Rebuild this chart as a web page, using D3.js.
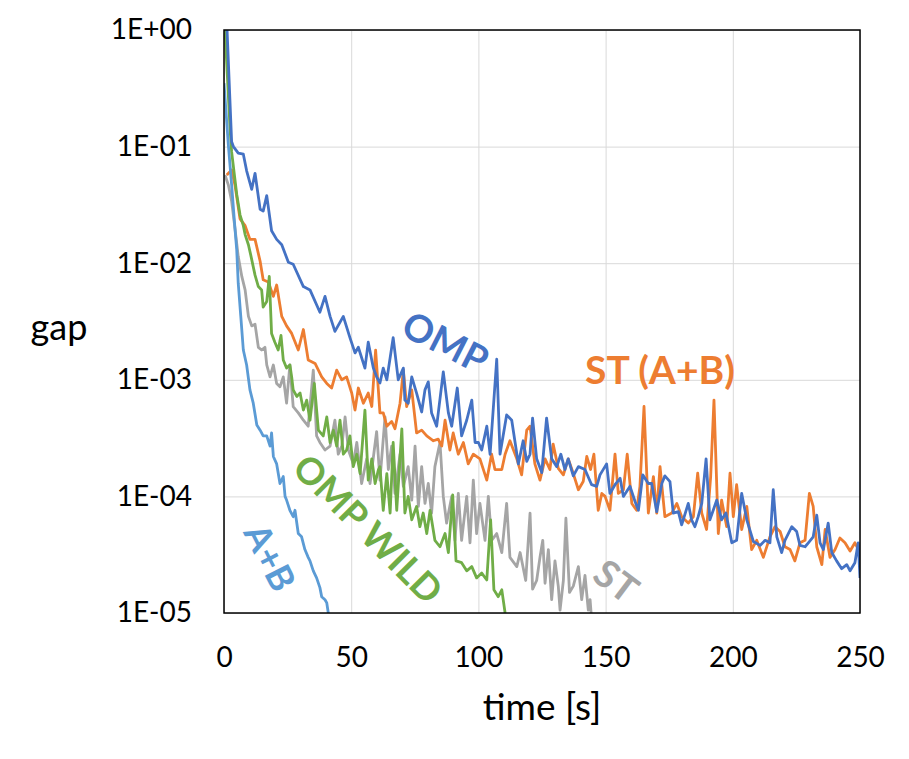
<!DOCTYPE html>
<html>
<head>
<meta charset="utf-8">
<script src="https://cdn.jsdelivr.net/npm/d3@7"></script>
<style>
  body { margin: 0; background: #fff; }
  text { font-family: Lato, "Open Sans", sans-serif; }
  .grid line { stroke: #d9d9d9; stroke-width: 1; }
  .grid path { stroke: none; }
  .tick-label { font-size: 28px; fill: #000; }
  .series { fill: none; stroke-width: 2.8; stroke-linejoin: round; }
  .tag { font-weight: bold; }
</style>
</head>
<body>
<div id="chart"></div>
<script>
// time [s] -> gap
var stSingle = [
  [0.4,0.057],[1.7,0.047],[3.0,0.034],[4.3,0.02],[5.6,0.0114],[7.0,0.0077],[8.3,0.0059],[9.6,0.0035],[10.9,0.0029],
  [12.2,0.003],[13.5,0.0019],[14.8,0.0018],[16.1,0.0019],[16.8,0.00134],[18.1,0.00106],[19.4,0.00134],[20.7,0.00093],
  [22.0,0.00087],[23.3,0.00106],[24.6,0.00063],[25.9,0.00134],[27.2,0.00059],[29.2,0.00052],[31.2,0.00045],[33.1,0.0004],
  [35.1,0.00121],[36.4,0.00033],[37.7,0.00029],[39.7,0.00025],[41.7,0.00027],[43.6,0.00045],[44.9,0.00023],[46.3,0.00027],
  [47.6,0.00048],[48.9,0.00025],[50.8,0.00019],[52.2,0.00029],[54.1,0.000129],[56.1,0.00021],[57.4,0.000129],[60.0,0.00036],
  [61.3,0.000138],[63.3,0.00048],[64.6,0.00017],[65.9,0.00027],[67.2,0.000106],[69.2,0.00023],[70.5,0.000122],[72.4,0.00018],
  [73.8,0.000093],[75.1,0.00027],[76.4,0.000082],[77.7,0.00018],[79.0,0.000087],[80.3,0.000129],[81.6,0.000072],[82.9,0.00018],
  [84.9,0.00029],[86.2,0.0001],[87.5,0.000059],[89.5,0.0001],[90.8,0.000042],[92.1,0.000106],[93.4,0.000042],[95.4,0.0001],
  [96.7,0.00004],[98.0,0.000138],[99.3,0.000048],[100.6,0.000087],[102.6,0.000042],[103.9,0.0001],[105.2,0.000042],
  [107.2,0.000048],[109.2,0.000033],[111.1,0.000087],[112.4,0.00003],[115.1,0.000025],[116.4,0.000033],[118.6,0.000019],
  [120.3,0.000072],[121.3,0.000016],[122.9,0.000019],[124.2,0.00003],[125.3,0.000042],[126.2,0.000018],[127.5,0.000035],
  [128.8,0.000013],[130.1,0.000028],[131.4,0.000017],[132.1,0.0000106],[133.4,0.000019],[134.4,0.000065],[135.8,0.000015],
  [137.3,0.000017],[139.3,0.000025],[140.6,0.000013],[141.9,0.000021],[143.2,0.0000106],[143.9,0.000013],[144.3,0.00001]
];

var stAB = [
  [1.1,0.057],[3.0,0.063],[4.3,0.047],[6.3,0.024],[8.3,0.021],[10.2,0.016],[12.2,0.016],[14.2,0.0104],[15.4,0.0072],
  [17.4,0.0069],[19.4,0.0052],[20.7,0.0065],[22.7,0.0035],[24.6,0.0029],[26.6,0.0025],[29.2,0.0018],[31.2,0.0027],
  [33.1,0.00148],[35.8,0.00138],[38.4,0.00106],[40.4,0.00093],[42.3,0.00085],[44.3,0.00121],[46.3,0.001],[48.2,0.00106],
  [50.2,0.00077],[51.5,0.00055],[52.8,0.00085],[54.8,0.00063],[56.7,0.00077],[58.1,0.00059],[59.6,0.0018],[61.3,0.00052],
  [62.6,0.00052],[64.0,0.0004],[65.9,0.00044],[67.2,0.00038],[69.2,0.00063],[70.5,0.00121],[71.8,0.00059],[73.8,0.00082],
  [75.7,0.00035],[77.7,0.00037],[79.7,0.00033],[82.3,0.0003],[84.2,0.00031],[85.6,0.00027],[86.9,0.00045],[88.8,0.00025],
  [90.1,0.00035],[92.1,0.00023],[94.1,0.00029],[96.0,0.00019],[98.0,0.00023],[100.6,0.00021],[103.3,0.000138],[105.2,0.00023],
  [106.5,0.00017],[109.2,0.00017],[110.5,0.00023],[112.4,0.0003],[115.1,0.00021],[117.0,0.000153],[119.0,0.00037],[120.3,0.0004],
  [122.2,0.00019],[124.2,0.000138],[126.2,0.00021],[128.1,0.00017],[129.4,0.00028],[131.4,0.000174],[133.4,0.000153],
  [135.3,0.00021],[137.3,0.000157],[139.3,0.000114],[141.2,0.000134],[142.6,0.00022],[144.1,0.00017],[145.4,0.00023],
  [147.1,0.000076],[148.5,0.000106],[149.8,0.0001],[151.7,0.000076],[153.7,0.00023],[155.0,0.000106],[157.0,0.000114],
  [158.5,0.00023],[160.3,0.000087],[162.2,0.000076],[163.5,0.000122],[165.1,0.00059],[166.8,0.000072],[168.8,0.000148],
  [170.1,0.000072],[171.4,0.00018],[173.3,0.000067],[176.0,0.000072],[178.0,0.000087],[179.9,0.000067],[182.5,0.000059],
  [184.5,0.000067],[186.2,0.000158],[187.8,0.000072],[189.7,0.000052],[191.3,0.000148],[192.6,0.00067],[194.3,0.000048],
  [195.6,0.000093],[197.6,0.000055],[198.9,0.000158],[200.2,0.000067],[201.5,0.000126],[203.5,0.000052],[205.5,0.000082],
  [207.4,0.000035],[209.4,0.000042],[212.0,0.00003],[214.6,0.000045],[216.6,0.000055],[218.6,0.00005],[220.5,0.000037],
  [222.5,0.000035],[224.4,0.000028],[226.4,0.00004],[228.4,0.000042],[230.1,0.000106],[231.6,0.000082],[233.0,0.000037],
  [235.0,0.000026],[236.3,0.000052],[238.2,0.00003],[240.2,0.000035],[242.1,0.000044],[244.1,0.00004],[246.1,0.000034],
  [248.0,0.00004],[250.0,0.000033]
];

var ompWild = [
  [0.4,1.0],[2.4,0.14],[3.0,0.09],[5.0,0.039],[6.3,0.026],[7.6,0.021],[8.3,0.0176],[9.6,0.0144],[10.5,0.0118],[12.2,0.0079],
  [13.5,0.0063],[14.8,0.0059],[15.4,0.0042],[16.8,0.0047],[17.8,0.0077],[18.7,0.0025],[20.0,0.0021],[21.3,0.0018],[22.4,0.0024],
  [23.3,0.00148],[24.6,0.00126],[25.9,0.00134],[26.6,0.00106],[27.2,0.00082],[28.6,0.00072],[29.9,0.00077],[31.2,0.00055],
  [32.5,0.00067],[33.8,0.00045],[35.5,0.00093],[37.1,0.00037],[39.0,0.00033],[40.4,0.00048],[41.7,0.00029],[43.0,0.00037],
  [44.3,0.00027],[45.6,0.00045],[46.9,0.00023],[48.2,0.00025],[49.5,0.00033],[50.8,0.00018],[52.2,0.00023],[53.5,0.000157],
  [55.4,0.00055],[56.7,0.000138],[58.1,0.00021],[59.4,0.000129],[60.7,0.00017],[61.3,0.00018],[62.6,0.000076],[64.0,0.000157],
  [65.3,0.000072],[66.5,0.00029],[67.9,0.000076],[69.9,0.00038],[71.1,0.000072],[72.4,0.0001],[73.8,0.000063],[75.7,0.000082],
  [77.0,0.000055],[78.3,0.000072],[79.7,0.000048],[81.0,0.000076],[82.9,0.000042],[84.9,0.000037],[86.9,0.000048],
  [88.2,0.000033],[89.9,0.000103],[91.2,0.000028],[93.4,0.000027],[95.4,0.000023],[97.4,0.000025],[99.3,0.00002],
  [101.3,0.000022],[103.3,0.0000192],[104.8,0.000063],[106.1,0.0000158],[107.8,0.0000138],[109.2,0.0000158],[110.5,0.00001]
];

var ab = [
  [0,0.35],[1.7,0.104],[3.0,0.047],[4.3,0.02],[5.0,0.013],[5.6,0.0067],[6.6,0.0035],[7.6,0.0018],[8.9,0.00134],[10.2,0.00082],
  [11.5,0.00063],[12.9,0.00041],[14.2,0.00037],[15.4,0.00033],[16.8,0.00033],[18.1,0.00027],[18.7,0.00035],[19.4,0.00022],
  [20.7,0.00019],[22.0,0.000129],[23.3,0.000148],[24.0,0.0001],[24.6,0.000093],[25.9,0.000076],[27.2,0.000067],[27.9,0.000076],
  [29.2,0.000048],[30.5,0.000045],[31.8,0.000035],[33.1,0.00003],[33.8,0.000028],[35.1,0.000023],[36.4,0.00002],
  [37.7,0.0000165],[38.4,0.0000138],[39.7,0.000013],[40.4,0.0000122],[41.0,0.00001]
];

var omp = [
  [1.2,1.0],[3.0,0.11],[3.7,0.10],[5.6,0.088],[7.6,0.086],[8.9,0.062],[10.9,0.043],[12.2,0.059],[14.2,0.029],[15.4,0.028],
  [16.8,0.038],[18.7,0.019],[20.7,0.016],[22.7,0.0144],[25.3,0.0102],[27.2,0.0098],[31.2,0.0063],[33.8,0.0059],[37.7,0.0038],
  [39.7,0.0052],[41.7,0.0035],[43.6,0.0026],[46.9,0.0035],[49.5,0.0023],[51.5,0.0017],[52.8,0.0019],[55.4,0.00126],
  [56.7,0.0021],[58.7,0.00126],[60.0,0.00106],[61.3,0.00094],[62.6,0.00126],[64.0,0.001],[66.5,0.0023],[68.5,0.001],
  [70.5,0.00126],[71.1,0.00067],[72.4,0.00063],[73.8,0.00106],[75.7,0.00077],[77.7,0.00053],[79.0,0.00082],[80.3,0.00096],
  [81.6,0.00052],[83.6,0.0004],[86.2,0.00117],[88.2,0.00052],[89.5,0.0004],[91.7,0.00085],[93.4,0.00033],[95.4,0.00045],
  [97.4,0.00067],[98.7,0.00029],[100.0,0.00029],[101.3,0.00025],[103.3,0.0004],[104.6,0.00023],[107.2,0.0015],[108.5,0.00023],
  [111.1,0.0005],[113.1,0.00045],[115.7,0.00019],[117.6,0.0003],[119.0,0.0002],[120.3,0.00023],[121.3,0.00047],[122.9,0.00021],
  [124.9,0.00016],[126.8,0.00047],[128.8,0.00021],[130.8,0.00018],[132.4,0.00023],[134.0,0.00017],[135.3,0.00021],
  [137.3,0.00015],[139.3,0.00018],[141.9,0.00017],[144.5,0.000126],[146.5,0.000122],[147.8,0.000153],[150.4,0.00019],
  [151.7,0.000106],[153.7,0.000126],[155.7,0.000143],[157.0,0.0001],[159.6,0.000122],[161.6,0.00009],[162.9,0.000076],
  [164.6,0.000153],[166.8,0.000129],[168.1,0.000129],[170.1,0.000074],[172.1,0.000129],[173.3,0.00015],[175.3,0.000134],
  [176.6,0.000072],[178.6,0.000074],[179.9,0.000057],[182.5,0.000087],[183.8,0.000063],[185.1,0.000055],[186.4,0.000067],
  [187.8,0.000087],[189.5,0.00021],[191.0,0.000063],[193.7,0.000093],[195.6,0.000063],[197.3,0.000072],[199.6,0.00004],
  [201.5,0.000042],[203.5,0.000106],[205.5,0.000063],[208.1,0.000041],[210.7,0.000038],[212.7,0.000042],[214.6,0.00004],
  [215.9,0.000114],[217.3,0.000045],[219.2,0.000033],[220.5,0.000042],[223.2,0.000055],[225.1,0.00005],[226.4,0.000038],
  [228.4,0.000037],[229.7,0.00004],[231.6,0.000045],[233.0,0.000069],[234.3,0.00004],[235.6,0.000035],[237.5,0.000059],
  [238.9,0.000033],[240.8,0.000028],[242.8,0.000024],[244.8,0.000026],[246.1,0.000023],[248.0,0.000027],[249.3,0.00004],
  [250.0,0.00002]
];

var xTicks = [0, 50, 100, 150, 200, 250];
var yTicks = [1, 1e-1, 1e-2, 1e-3, 1e-4, 1e-5];
var yTickLabels = ['1E+00', '1E-01', '1E-02', '1E-03', '1E-04', '1E-05'];

var series = [
    { name: 'ST', data: stSingle, color: '#a5a5a5' },
    { name: 'ST (A+B)', data: stAB, color: '#ed7d31' },
    { name: 'OMP WILD', data: ompWild, color: '#70ad47' },
    { name: 'A+B', data: ab, color: '#5b9bd5' },
    { name: 'OMP', data: omp, color: '#4472c4' }
];

var svg = d3.select('#chart').append('svg').attr('width', 909).attr('height', 759);

var margin = { top: 30, left: 224 };
var width = 636;
var height = 583;

var chart = svg.append('g')
    .attr('transform', `translate(${margin.left}, ${margin.top})`);

var xScale = d3.scaleLinear().domain([0, 250]).range([0, width]);
var yScale = d3.scaleLog().domain([1e-5, 1]).range([height, 0]);

// grid
chart.append('g')
    .attr('class', 'grid')
    .call(d3.axisLeft(yScale).tickValues(yTicks).tickSize(-width).tickFormat(''));
chart.append('g')
    .attr('class', 'grid')
    .attr('transform', `translate(0, ${height})`)
    .call(d3.axisBottom(xScale).tickValues(xTicks).tickSize(-height).tickFormat(''));

chart.append('clipPath')
    .attr('id', 'plot-clip')
    .append('rect')
    .attr('width', width)
    .attr('height', height);

var line = d3.line()
    .x((d) => xScale(d[0]))
    .y((d) => yScale(d[1]));

chart.append('g')
    .attr('clip-path', 'url(#plot-clip)')
    .selectAll('path')
    .data(series)
    .enter()
    .append('path')
    .attr('class', 'series')
    .attr('stroke', (s) => s.color)
    .attr('d', (s) => line(s.data));

// plot frame
chart.append('rect')
    .attr('width', width)
    .attr('height', height)
    .attr('fill', 'none')
    .attr('stroke', '#000')
    .attr('stroke-width', 1.5);

// tick labels
var yAxis = chart.append('g')
    .call(d3.axisLeft(yScale).tickValues(yTicks).tickSize(0).tickPadding(32)
        .tickFormat((d, i) => yTickLabels[i]));
yAxis.select('.domain').remove();
yAxis.selectAll('text').attr('class', 'tick-label').attr('font-family', null).attr('font-size', null);

var xAxis = chart.append('g')
    .attr('transform', `translate(0, ${height})`)
    .call(d3.axisBottom(xScale).tickValues(xTicks).tickSize(0).tickPadding(34));
xAxis.select('.domain').remove();
xAxis.selectAll('text').attr('class', 'tick-label').attr('font-family', null).attr('font-size', null);

// axis titles
svg.append('text')
    .attr('x', 59)
    .attr('y', 340)
    .attr('text-anchor', 'middle')
    .attr('font-size', 36)
    .text('gap');

svg.append('text')
    .attr('x', 542)
    .attr('y', 720)
    .attr('text-anchor', 'middle')
    .attr('font-size', 37)
    .text('time [s]');

// series labels written on the plot
var tags = [
    { text: 'OMP', x: 446, y: 341, angle: 27, color: '#4472c4', size: 38 },
    { text: 'ST (A+B)', x: 660, y: 369, angle: 0, color: '#ed7d31', size: 39 },
    { text: 'OMP WILD', x: 369, y: 528, angle: 45, color: '#70ad47', size: 37 },
    { text: 'ST', x: 617, y: 580, angle: 37, color: '#a5a5a5', size: 38 },
    { text: 'A+B', x: 271, y: 557, angle: 63, color: '#5b9bd5', size: 36 }
];

svg.selectAll('.tag')
    .data(tags)
    .enter()
    .append('text')
    .attr('class', 'tag')
    .attr('text-anchor', 'middle')
    .attr('dominant-baseline', 'central')
    .attr('fill', (t) => t.color)
    .attr('font-size', (t) => t.size)
    .attr('transform', (t) => `translate(${t.x}, ${t.y}) rotate(${t.angle})`)
    .text((t) => t.text);
</script>
</body>
</html>
